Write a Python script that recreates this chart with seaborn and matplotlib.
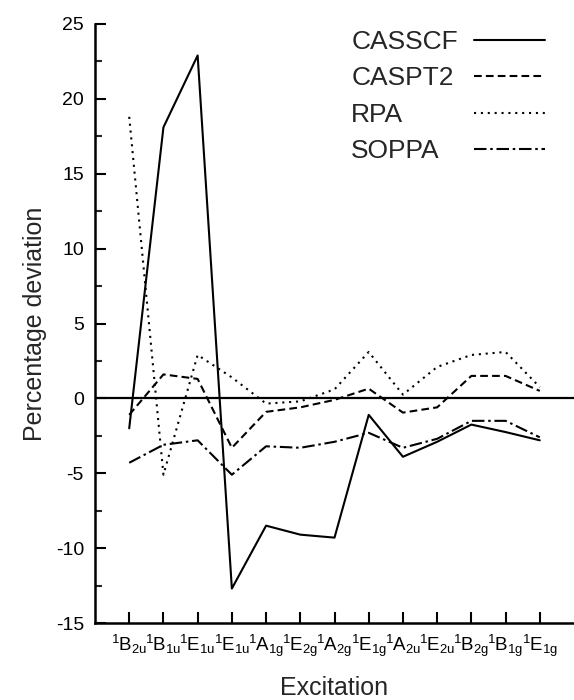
import numpy as np
import pandas as pd
import matplotlib as mpl
mpl.use("Agg")
import matplotlib.pyplot as plt
import seaborn as sns
from matplotlib.ticker import MultipleLocator

# excitation labels (benzene-like states)
excitations = [r"$^1$B$_{2u}$", r"$^1$B$_{1u}$", r"$^1$E$_{1u}$", r"$^1$E$_{1u}$",
               r"$^1$A$_{1g}$", r"$^1$E$_{2g}$", r"$^1$A$_{2g}$", r"$^1$E$_{1g}$",
               r"$^1$A$_{2u}$", r"$^1$E$_{2u}$", r"$^1$B$_{2g}$", r"$^1$B$_{1g}$",
               r"$^1$E$_{1g}$"]

casscf = [-2.0, 18.1, 22.9, -12.7, -8.5, -9.1, -9.3, -1.1, -3.9, -2.9, -1.75, -2.25, -2.8]
caspt2 = [-1.1, 1.6, 1.3, -3.3, -0.9, -0.6, -0.1, 0.65, -0.95, -0.6, 1.5, 1.5, 0.5]
rpa = [18.8, -5.1, 2.9, 1.4, -0.35, -0.2, 0.6, 3.1, 0.25, 2.1, 2.9, 3.1, 0.75]
soppa = [-4.3, -3.1, -2.8, -5.1, -3.2, -3.3, -2.9, -2.3, -3.3, -2.7, -1.5, -1.5, -2.6]

methods = ["CASSCF", "CASPT2", "RPA", "SOPPA"]

df = pd.DataFrame({
    "pos": np.tile(np.arange(len(excitations)), 4),
    "dev": casscf + caspt2 + rpa + soppa,
    "method": np.repeat(methods, len(excitations)),
})

sns.set_theme(style="ticks")
plt.rcParams["font.family"] = ["Liberation Sans", "DejaVu Sans"]
plt.rcParams["mathtext.fontset"] = "custom"
plt.rcParams["mathtext.rm"] = "Liberation Sans"
plt.rcParams["mathtext.it"] = "Liberation Sans:italic"
plt.rcParams["mathtext.default"] = "regular"
plt.rcParams["axes.unicode_minus"] = False

fig = plt.figure(figsize=(5.74, 7.0), dpi=100)
ax = fig.add_axes([95 / 574, 1 - 623 / 700, 1 - 95 / 574, (623 - 24) / 700])

ax.axhline(0, color="black", lw=1.6, zorder=1)

sns.lineplot(
    data=df, x="pos", y="dev",
    style="method", style_order=methods,
    dashes={"CASSCF": "", "CASPT2": (3.7, 2.0), "RPA": (1.0, 2.3), "SOPPA": (6.0, 1.8, 1.2, 1.8)},
    color="black", lw=1.5, ax=ax, legend=True,
)

ax.set_xlim(-1, 13)
ax.set_ylim(-15, 25)
ax.set_xticks(range(len(excitations)))
ax.set_xticklabels(excitations, fontsize=13.5)
ax.yaxis.set_major_locator(MultipleLocator(5))
ax.yaxis.set_minor_locator(MultipleLocator(2.5))
ax.tick_params(axis="both", direction="in", length=8, width=1.5, colors="black")
ax.tick_params(axis="y", which="minor", direction="in", length=5, width=1.5)
ax.tick_params(axis="y", labelsize=14, pad=8)
ax.tick_params(axis="x", pad=7)

for s in ["top", "right"]:
    ax.spines[s].set_visible(False)
for s in ["left", "bottom"]:
    ax.spines[s].set_linewidth(1.8)
    ax.spines[s].set_color("black")

ax.set_xlabel("Excitation", fontsize=18, labelpad=12)
ax.set_ylabel("Percentage deviation", fontsize=18, labelpad=6)

handles, labels = ax.get_legend_handles_labels()
leg = ax.legend(handles, labels, loc="upper right", bbox_to_anchor=(545 / 574, 1 - 30 / 700),
                bbox_transform=fig.transFigure, frameon=False, markerfirst=False,
                fontsize=19, handlelength=2.7, handletextpad=0.6, labelspacing=0.47,
                borderpad=0, borderaxespad=0)
for line in leg.get_lines():
    line.set_color("black")
    line.set_linewidth(1.5)

# left-align the legend texts: stretch every row to the widest one
fig.canvas.draw()
renderer = fig.canvas.get_renderer()
rows = [r for col in leg._legend_handle_box.get_children() for r in col.get_children()]
wmax = max(r.get_bbox(renderer).width for r in rows)
for r in rows:
    r.mode = "expand"
    r.width = wmax

fig.savefig("out.png", dpi=100)
